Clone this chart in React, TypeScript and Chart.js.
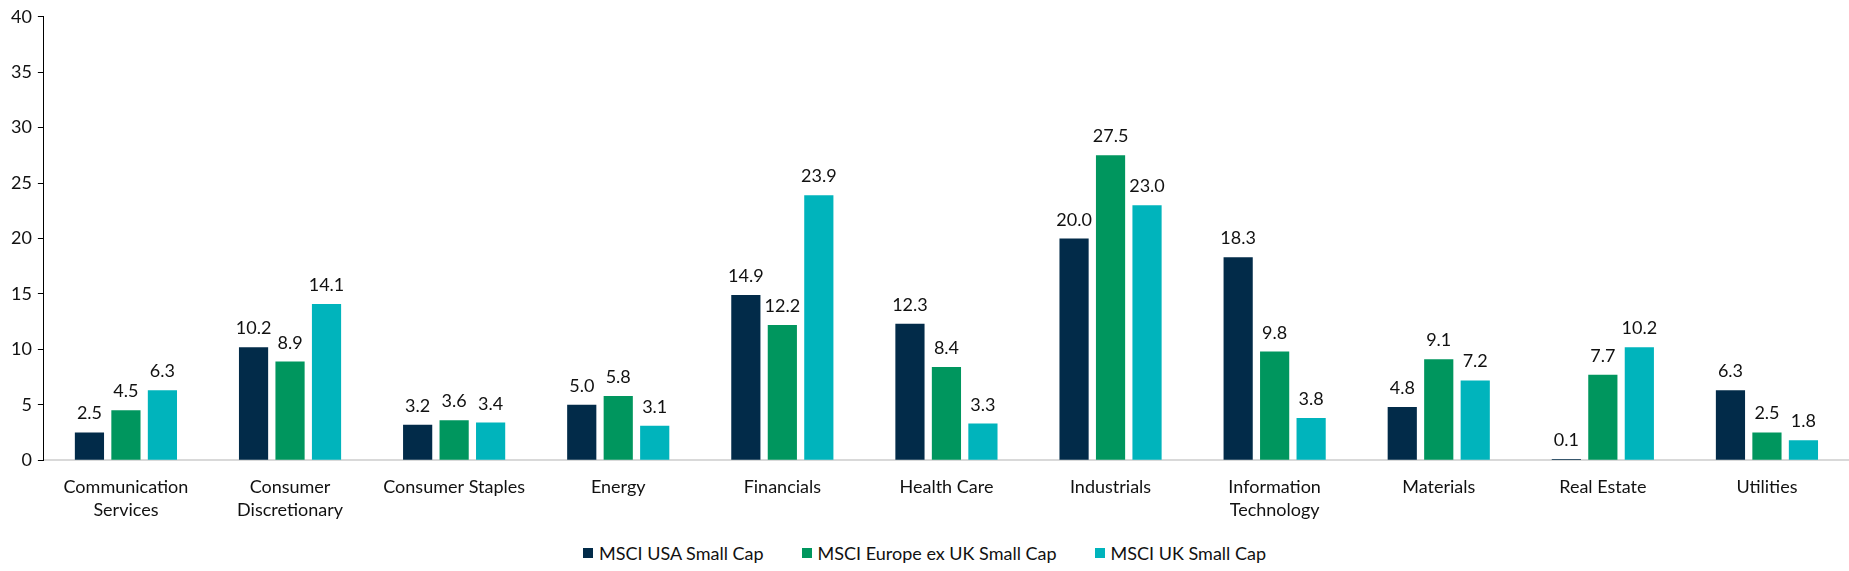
import { useEffect, useRef } from "react";
import { Chart, registerables, type Plugin } from "chart.js";

Chart.register(...registerables);

const categories: (string | string[])[] = [
  ["Communication", "Services"],
  ["Consumer", "Discretionary"],
  "Consumer Staples",
  "Energy",
  "Financials",
  "Health Care",
  "Industrials",
  ["Information", "Technology"],
  "Materials",
  "Real Estate",
  "Utilities",
];

const seriesNames = ["MSCI USA Small Cap", "MSCI Europe ex UK Small Cap", "MSCI UK Small Cap"];
const seriesColors = ["#022B49", "#00965E", "#00B4BC"];

const usaSmallCap = [2.5, 10.2, 3.2, 5.0, 14.9, 12.3, 20.0, 18.3, 4.8, 0.1, 6.3];
const europeExUkSmallCap = [4.5, 8.9, 3.6, 5.8, 12.2, 8.4, 27.5, 9.8, 9.1, 7.7, 2.5];
const ukSmallCap = [6.3, 14.1, 3.4, 3.1, 23.9, 3.3, 23.0, 3.8, 7.2, 10.2, 1.8];

const FONT = "Lato, 'Noto Sans', sans-serif";
const TEXT = "#111";

// draws the value above each bar, one decimal
const valueLabels: Plugin<"bar"> = {
  id: "valueLabels",
  afterDatasetsDraw(chart) {
    const { ctx } = chart;
    ctx.save();
    ctx.font = `18px ${FONT}`;
    ctx.fillStyle = TEXT;
    ctx.textAlign = "center";
    ctx.textBaseline = "alphabetic";
    chart.data.datasets.forEach((ds, i) => {
      const meta = chart.getDatasetMeta(i);
      meta.data.forEach((bar, j) => {
        const v = ds.data[j] as number;
        ctx.fillText(v.toFixed(1), bar.x, bar.y - 13);
      });
    });
    ctx.restore();
  },
};

export default function App() {
  const canvasRef = useRef<HTMLCanvasElement>(null);

  useEffect(() => {
    if (!canvasRef.current) return;

    const chart = new Chart(canvasRef.current, {
      type: "bar",
      data: {
        labels: categories,
        datasets: [usaSmallCap, europeExUkSmallCap, ukSmallCap].map((data, i) => ({
          label: seriesNames[i],
          data,
          backgroundColor: seriesColors[i],
        })),
      },
      options: {
        animation: false,
        responsive: true,
        maintainAspectRatio: false,
        layout: { padding: { top: 0, right: 0, left: 5, bottom: 9 } },
        datasets: {
          bar: { categoryPercentage: 0.667, barPercentage: 0.8 },
        },
        plugins: {
          tooltip: { enabled: false },
          legend: { display: false },
        },
        scales: {
          x: {
            grid: { display: false },
            border: { display: true, color: "#d9d9d9", width: 2 },
            ticks: {
              color: TEXT,
              padding: 7,
              maxRotation: 0,
              autoSkip: false,
              font: { family: FONT, size: 18, lineHeight: 1.3 },
            },
          },
          y: {
            min: 0,
            max: 40,
            grid: { drawOnChartArea: false, tickLength: 6, color: "#000" },
            border: { display: true, color: "#000", width: 1 },
            ticks: {
              stepSize: 5,
              color: TEXT,
              padding: 6,
              font: { family: FONT, size: 18 },
            },
          },
        },
      },
      plugins: [valueLabels],
    });

    return () => {
      chart.destroy();
    };
  }, []);

  return (
    <div style={{ position: "absolute", top: 0, left: 0, width: 1849, height: 571, background: "#fff" }}>
      <div style={{ position: "relative", width: 1849, height: 538 }}>
        <canvas ref={canvasRef} />
      </div>
      <div
        style={{
          display: "flex",
          justifyContent: "center",
          alignItems: "center",
          height: 30,
          gap: 38,
          fontFamily: FONT,
          fontSize: 18,
          color: TEXT,
        }}
      >
        {seriesNames.map((name, i) => (
          <div key={name} style={{ display: "flex", alignItems: "center" }}>
            <span style={{ width: 10, height: 10, background: seriesColors[i], marginRight: 6 }} />
            <span>{name}</span>
          </div>
        ))}
      </div>
    </div>
  );
}
